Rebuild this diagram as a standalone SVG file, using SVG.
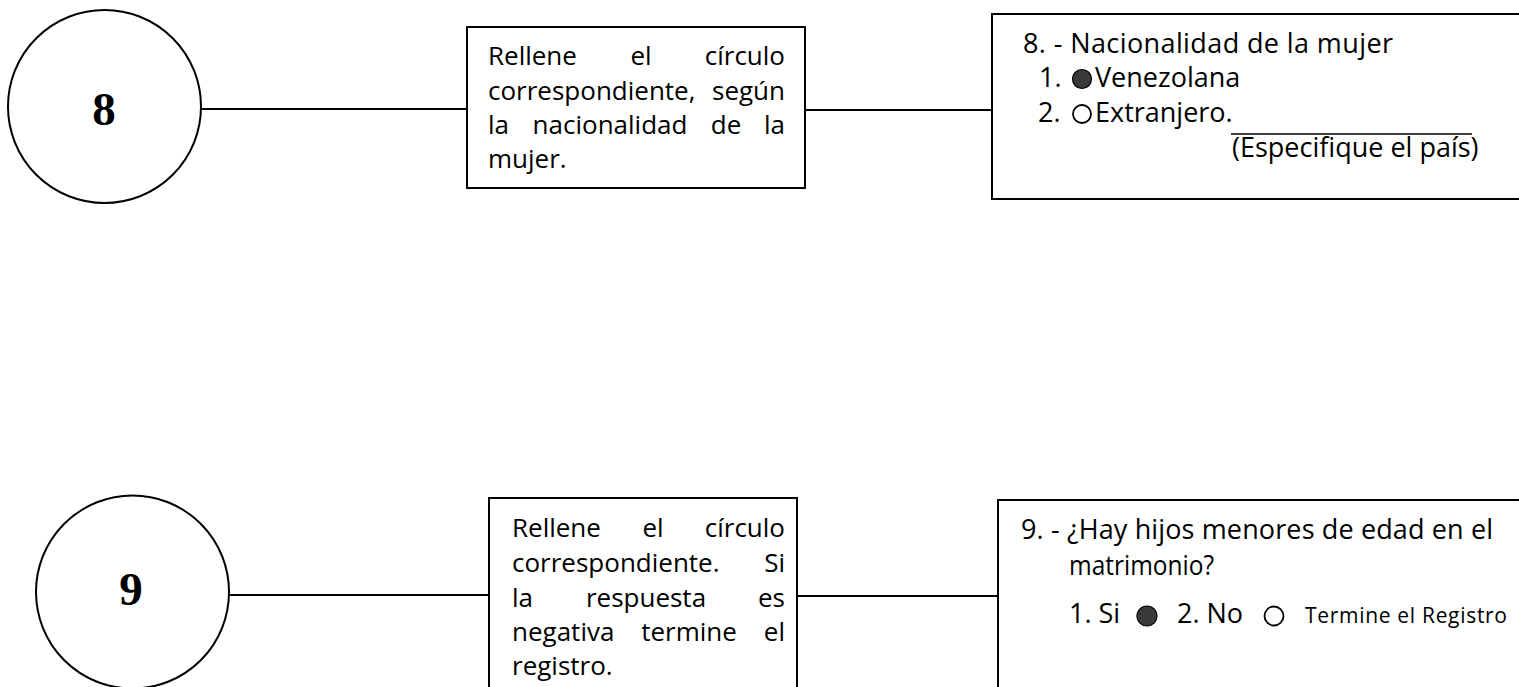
<svg xmlns="http://www.w3.org/2000/svg" width="1519" height="687" viewBox="0 0 1519 687">
<style>
.shape{fill:#fff;stroke:#000;stroke-width:2}
.conn{stroke:#000;stroke-width:2;fill:none}
.t{font-family:"Open Sans","Noto Sans",sans-serif;font-size:26px;fill:#000}
.r{font-family:"Open Sans","Noto Sans",sans-serif;font-size:27px;fill:#000}
.s{font-family:"Open Sans","Noto Sans",sans-serif;font-size:21px;fill:#000}
.num{font-family:"Liberation Serif",serif;font-weight:bold;font-size:47px;fill:#000;text-anchor:middle}
.m{text-anchor:middle}
.e{text-anchor:end}
.dot{fill:#3a3a3a;stroke:#000;stroke-width:1.2}
.ring{fill:#fff;stroke:#000;stroke-width:1.8}
</style>
<rect width="1519" height="687" fill="#fff"/>
<g id="connectors">
<line class="conn" x1="201" y1="109" x2="467" y2="109"/>
<line class="conn" x1="805" y1="110" x2="992" y2="110"/>
<line class="conn" x1="227" y1="595" x2="489" y2="595"/>
<line class="conn" x1="797" y1="596" x2="998" y2="596"/>
</g>
<g id="node-8">
<circle class="shape" cx="104.5" cy="106.5" r="96.5"/>
<text class="num" x="104" y="125">8</text>
</g>
<g id="instr-8">
<rect class="shape" x="467" y="27" width="338" height="161"/>
<text class="t" x="488" y="65">Rellene</text>
<text class="t m" x="641" y="65">el</text>
<text class="t e" x="785" y="65">círculo</text>
<text class="t" x="488" y="100">correspondiente,</text>
<text class="t e" x="785" y="100">según</text>
<text class="t" x="488" y="134">la</text>
<text class="t m" x="610" y="134">nacionalidad</text>
<text class="t m" x="726" y="134">de</text>
<text class="t e" x="785" y="134">la</text>
<text class="t" x="488" y="168">mujer.</text>
</g>
<g id="question-8">
<rect class="shape" x="992" y="14" width="540" height="185"/>
<text class="r" x="1023" y="53" textLength="370" lengthAdjust="spacing">8. - Nacionalidad de la mujer</text>
<text class="r" x="1039" y="87">1.</text>
<circle class="dot" cx="1082" cy="79" r="9.5"/>
<text class="r" x="1095" y="87">Venezolana</text>
<text class="r" x="1038" y="122">2.</text>
<circle class="ring" cx="1082" cy="114" r="9"/>
<text class="r" x="1095" y="122">Extranjero.</text>
<line class="conn" x1="1231" y1="134" x2="1472" y2="134" style="stroke-width:1.5"/>
<text class="r" x="1232" y="157">(Especifique el país)</text>
</g>
<g id="node-9">
<circle class="shape" cx="132.5" cy="592" r="96.5"/>
<text class="num" x="131" y="605">9</text>
</g>
<g id="instr-9">
<rect class="shape" x="489" y="498" width="308" height="200"/>
<text class="t" x="512" y="537">Rellene</text>
<text class="t m" x="653" y="537">el</text>
<text class="t e" x="785" y="537">círculo</text>
<text class="t" x="512" y="572">correspondiente.</text>
<text class="t e" x="785" y="572">Si</text>
<text class="t" x="512" y="607">la</text>
<text class="t m" x="646" y="607">respuesta</text>
<text class="t e" x="785" y="607">es</text>
<text class="t" x="512" y="641">negativa</text>
<text class="t m" x="689" y="641">termine</text>
<text class="t e" x="785" y="641">el</text>
<text class="t" x="512" y="675">registro.</text>
</g>
<g id="question-9">
<rect class="shape" x="998" y="500" width="540" height="200"/>
<text class="r" x="1021" y="539" textLength="472" lengthAdjust="spacing">9. - ¿Hay hijos menores de edad en el</text>
<text class="r" x="1069" y="575" textLength="145" lengthAdjust="spacingAndGlyphs">matrimonio?</text>
<text class="r" x="1069" y="623">1. Si</text>
<circle class="dot" cx="1147" cy="616" r="10"/>
<text class="r" x="1177" y="623">2. No</text>
<circle class="ring" cx="1274" cy="616" r="9.5"/>
<text class="s" x="1305" y="623" textLength="202" lengthAdjust="spacing">Termine el Registro</text>
</g>
</svg>
